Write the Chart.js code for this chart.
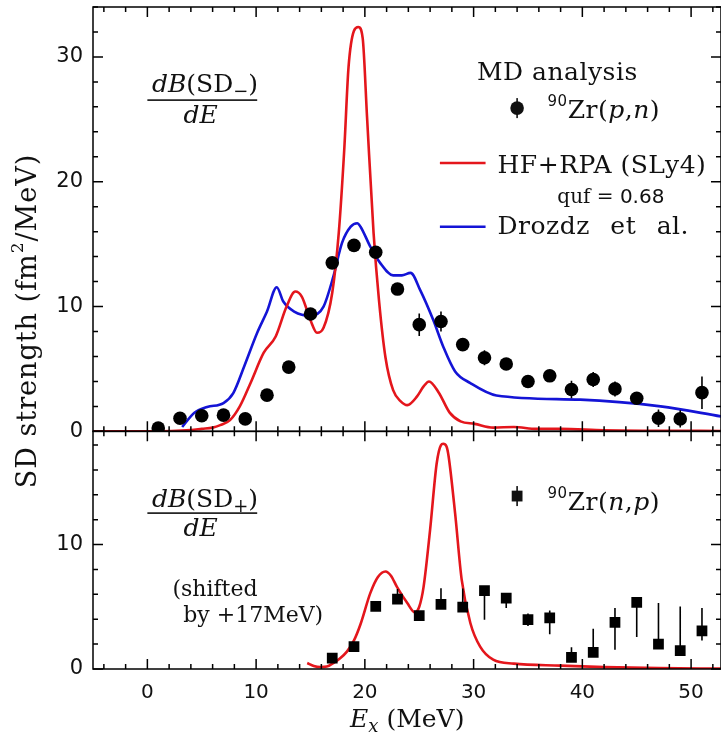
<!DOCTYPE html>
<html lang="en">
<head>
    <title>SD strength 90Zr</title>
    <meta charset="UTF-8">
    <style>
        body {
            margin: 0;
            background: #fff;
        }
        #plot-container {
            width: 721px;
            height: 741px;
        }
    </style>
</head>
<body>
<div id="plot-container">
    <canvas id="sd-plot"></canvas>
</div>
<script src="https://cdn.jsdelivr.net/npm/chart.js"></script>
<script>
    // 90Zr(p,n) multipole decomposition, SD- strength per MeV
    const pnEx = [1, 3, 5, 7, 9, 11, 13, 15, 17, 19, 21, 23, 25, 27, 29, 31, 33, 35, 37, 39, 41, 43, 45, 47, 49, 51];
    const pnVal = [0.27, 1.05, 1.25, 1.3, 1.0, 2.9, 5.15, 9.4, 13.5, 14.9, 14.35, 11.4, 8.55, 8.8, 6.95, 5.9, 5.4, 4.0, 4.45, 3.35, 4.15, 3.4, 2.65, 1.05, 1.0, 3.1];
    const pnErr = [0.3, 0.3, 0.3, 0.3, 0.3, 0.3, 0.3, 0.3, 0.3, 0.3, 0.3, 0.3, 0.9, 0.8, 0.3, 0.6, 0.3, 0.3, 0.3, 0.7, 0.6, 0.6, 0.3, 0.7, 0.7, 1.3];

    // 90Zr(n,p), SD+ strength (shifted by +17 MeV), asymmetric errors
    const npEx = [17, 19, 21, 23, 25, 27, 29, 31, 33, 35, 37, 39, 41, 43, 45, 47, 49, 51];
    const npVal = [0.88, 1.8, 5.03, 5.62, 4.28, 5.2, 4.98, 6.29, 5.7, 3.96, 4.1, 0.94, 1.34, 3.75, 5.35, 2.0, 1.47, 3.07];
    const npErrHi = [0.3, 0.3, 0.3, 0.8, 0.3, 1.3, 1.5, 0.3, 0.3, 0.5, 0.6, 0.8, 1.9, 1.15, 0.3, 3.3, 3.56, 1.83];
    const npErrLo = [0.3, 0.3, 0.3, 0.3, 0.3, 0.3, 0.3, 2.34, 0.8, 0.5, 1.3, 0.3, 0.3, 2.2, 2.78, 0.3, 0.3, 0.77];

    // HF+RPA (SLy4), quf = 0.68, SD- channel
    const rpaMinusEx = [-5, 0, 4, 5, 6, 6.7, 7.6, 8.5, 9.5, 10.7, 11.8, 12.8, 13.6, 14.2, 15.0, 15.6, 16.2, 17.0, 17.6, 18.1, 18.5, 19.0, 19.4, 19.8, 20.2, 20.8, 21.3, 21.9, 22.6, 23.3, 23.9, 24.8, 25.4, 25.9, 26.8, 27.8, 28.8, 30.1, 31.8, 33.7, 35.8, 38.0, 42, 47, 52.75];
    const rpaMinus = [0, 0, 0.1, 0.2, 0.3, 0.5, 0.9, 2.0, 3.9, 6.3, 7.6, 10.0, 11.2, 10.8, 8.9, 7.9, 8.3, 11.1, 15.9, 22.5, 29.2, 32.1, 32.4, 31.5, 25.2, 15.9, 10.5, 5.9, 3.3, 2.4, 2.1, 2.8, 3.6, 4.0, 3.1, 1.5, 0.8, 0.6, 0.3, 0.35, 0.2, 0.2, 0.08, 0.05, 0.03];

    // Drozdz et al.
    const drozdzEx = [3.2, 4.3, 5.5, 7.0, 7.9, 8.9, 10.1, 11.0, 11.9, 12.5, 13.5, 15.0, 16.2, 17.1, 17.9, 18.7, 19.3, 19.6, 20.5, 21.4, 22.6, 23.4, 24.2, 25.1, 26.3, 27.2, 28.3, 29.7, 32.1, 39.8, 47.2, 52.75];
    const drozdz = [0.35, 1.47, 1.95, 2.27, 3.07, 5.2, 7.9, 9.6, 11.55, 10.4, 9.6, 9.26, 10.0, 12.4, 15.1, 16.4, 16.67, 16.4, 14.8, 13.5, 12.5, 12.5, 12.7, 11.3, 8.9, 6.8, 4.8, 3.87, 2.88, 2.54, 2.0, 1.2];

    // HF+RPA (SLy4), SD+ channel
    const rpaPlusEx = [14.7, 15.3, 15.9, 16.5, 17.1, 17.7, 18.35, 19.0, 19.6, 20.5, 21.2, 21.9, 22.4, 22.95, 23.9, 24.6, 25.0, 25.4, 26.0, 26.6, 27.0, 27.2, 27.5, 27.7, 28.3, 28.9, 29.7, 30.6, 31.8, 33.7, 38.0, 42, 47, 52.75];
    const rpaPlus = [0.48, 0.25, 0.16, 0.2, 0.48, 0.85, 1.4, 2.3, 3.6, 6.1, 7.4, 7.84, 7.5, 6.6, 5.3, 4.55, 5.0, 6.6, 11.2, 16.5, 18.0, 18.1, 17.9, 17.1, 12.5, 7.2, 3.7, 1.8, 0.75, 0.43, 0.27, 0.15, 0.07, 0.03];

    const xTicks = [0, 10, 20, 30, 40, 50];
    const yTopTicks = [0, 10, 20, 30];
    const yBotTicks = [0, 10];

    const RED = '#e4161c';
    const BLUE = '#1414d6';
    const SERIF = '"DejaVu Serif"';
    const SANS = '"DejaVu Sans"';

    const pairs = (xs, ys) => xs.map((x, i) => ({x: x, y: ys[i]}));

    // draw a run of differently styled text pieces, returns total width
    function drawRuns(ctx, parts, x, y, align) {
        let w = 0;
        parts.forEach(p => { ctx.font = p.f; w += ctx.measureText(p.t).width; });
        let cx = align === 'center' ? x - w / 2 : x;
        parts.forEach(p => {
            ctx.font = p.f;
            ctx.fillText(p.t, cx, y + (p.dy || 0));
            cx += ctx.measureText(p.t).width;
        });
        return w;
    }

    const frame = {
        id: 'frame',
        afterDatasetsDraw(chart) {
            const ctx = chart.ctx;
            const sx = chart.scales.x, yt = chart.scales.yTop, yb = chart.scales.yBot;
            const L = chart.chartArea.left, R = chart.chartArea.right;

            ctx.save();
            // error bars
            ctx.strokeStyle = '#000';
            ctx.lineWidth = 1.6;
            ctx.beginPath();
            pnEx.forEach((e, i) => {
                const px = sx.getPixelForValue(e);
                ctx.moveTo(px, yt.getPixelForValue(pnVal[i] - pnErr[i]));
                ctx.lineTo(px, yt.getPixelForValue(pnVal[i] + pnErr[i]));
            });
            npEx.forEach((e, i) => {
                const px = sx.getPixelForValue(e);
                ctx.moveTo(px, yb.getPixelForValue(npVal[i] - npErrLo[i]));
                ctx.lineTo(px, yb.getPixelForValue(npVal[i] + npErrHi[i]));
            });
            ctx.stroke();

            // panel frames with inward ticks
            ctx.lineWidth = 1.5;
            [yt, yb].forEach(ys => {
                const T = ys.top, B = ys.bottom;
                ctx.strokeRect(L, T, R - L, B - T);
                ctx.beginPath();
                for (let v = 0; v <= ys.max; v += 2) {
                    const p = ys.getPixelForValue(v);
                    const len = v % 10 === 0 ? 10 : 5;
                    ctx.moveTo(L, p); ctx.lineTo(L + len, p);
                    ctx.moveTo(R, p); ctx.lineTo(R - len, p);
                }
                for (let v = -4; v <= sx.max; v += 2) {
                    const p = sx.getPixelForValue(v);
                    const len = v % 10 === 0 ? 10 : 5;
                    ctx.moveTo(p, T); ctx.lineTo(p, T + len);
                    ctx.moveTo(p, B); ctx.lineTo(p, B - len);
                }
                ctx.stroke();
            });

            ctx.fillStyle = '#111';
            ctx.textBaseline = 'alphabetic';
            const X = v => sx.getPixelForValue(v);
            const big = '25px ' + SERIF, bigIt = 'italic 25px ' + SERIF;
            const sub = '18px ' + SERIF;

            // dB(SD-)/dE
            drawRuns(ctx, [{t: 'dB', f: bigIt}, {t: '(SD', f: big}, {t: '\u2212', f: sub, dy: 5}, {t: ')', f: big}],
                X(5.3), yt.getPixelForValue(27.18), 'center');
            ctx.fillRect(X(0), yt.getPixelForValue(26.54) - 0.8, X(10.1) - X(0), 1.6);
            drawRuns(ctx, [{t: 'dE', f: bigIt}], X(4.9), yt.getPixelForValue(24.7), 'center');

            // dB(SD+)/dE
            drawRuns(ctx, [{t: 'dB', f: bigIt}, {t: '(SD', f: big}, {t: '+', f: sub, dy: 5}, {t: ')', f: big}],
                X(5.3), yb.getPixelForValue(13.05), 'center');
            ctx.fillRect(X(0), yb.getPixelForValue(12.53) - 0.8, X(10.1) - X(0), 1.6);
            drawRuns(ctx, [{t: 'dE', f: bigIt}], X(4.9), yb.getPixelForValue(10.65), 'center');

            ctx.font = '22px ' + SERIF;
            ctx.fillText('(shifted', X(2.3), yb.getPixelForValue(5.83));
            ctx.fillText('by +17MeV)', X(3.3), yb.getPixelForValue(3.74));

            // legend block
            ctx.letterSpacing = '0.5px';
            ctx.font = big;
            ctx.textAlign = 'center';
            ctx.fillText('MD analysis', X(37.7), yt.getPixelForValue(28.14));
            ctx.textAlign = 'left';

            const zr = (a, b) => [{t: '90', f: '15px ' + SANS, dy: -12}, {t: 'Zr(', f: big}, {t: a, f: bigIt}, {t: ',', f: big}, {t: b, f: bigIt}, {t: ')', f: big}];
            drawRuns(ctx, zr('p', 'n'), X(36.8), yt.getPixelForValue(25.1), 'left');
            drawRuns(ctx, zr('n', 'p'), X(36.8), yb.getPixelForValue(12.8), 'left');

            // legend markers
            ctx.beginPath();
            ctx.arc(X(34), yt.getPixelForValue(25.9), 6.8, 0, Math.PI * 2);
            ctx.fill();
            ctx.fillRect(X(34) - 0.8, yt.getPixelForValue(25.9) - 10, 1.6, 20);
            ctx.fillRect(X(34) - 5.4, yb.getPixelForValue(13.9) - 5.4, 10.8, 10.8);
            ctx.fillRect(X(34) - 0.8, yb.getPixelForValue(13.9) - 10, 1.6, 20);

            ctx.lineWidth = 2.5;
            ctx.strokeStyle = RED;
            ctx.beginPath();
            ctx.moveTo(X(26.9), yt.getPixelForValue(21.5));
            ctx.lineTo(X(31.1), yt.getPixelForValue(21.5));
            ctx.stroke();
            ctx.strokeStyle = BLUE;
            ctx.beginPath();
            ctx.moveTo(X(26.9), yt.getPixelForValue(16.4));
            ctx.lineTo(X(31.1), yt.getPixelForValue(16.4));
            ctx.stroke();

            ctx.font = big;
            ctx.fillText('HF+RPA (SLy4)', X(32.2), yt.getPixelForValue(20.7));
            ctx.wordSpacing = '12px';
            ctx.fillText('Drozdz et al.', X(32.2), yt.getPixelForValue(15.8));
            ctx.wordSpacing = '0px';
            ctx.letterSpacing = '0px';
            drawRuns(ctx, [{t: 'quf = ', f: '20px ' + SERIF}, {t: '0.68', f: '20px ' + SANS}],
                X(37.7), yt.getPixelForValue(18.3), 'left');

            // axis titles
            drawRuns(ctx, [{t: 'E', f: bigIt}, {t: 'x', f: 'italic 18px ' + SERIF, dy: 5}, {t: ' (MeV)', f: big}],
                X(23.9), chart.chartArea.bottom + 58, 'center');

            ctx.translate(29, chart.chartArea.top + 314);
            ctx.rotate(-Math.PI / 2);
            ctx.textBaseline = 'middle';
            ctx.letterSpacing = '1px';
            drawRuns(ctx, [{t: 'SD strength (fm', f: '27px ' + SERIF}, {t: '2', f: '17px ' + SERIF, dy: -10},
                {t: '/MeV)', f: '27px ' + SERIF}], 0, 0, 'center');
            ctx.restore();
        }
    };

    const lineStyle = {showLine: true, pointRadius: 0, borderWidth: 2.6, cubicInterpolationMode: 'monotone'};
    const noPad = s => { s.paddingLeft = 0; s.paddingRight = 0; s.paddingTop = 0; s.paddingBottom = 0; };

    const sd_plot = new Chart(document.getElementById('sd-plot'), {
        type: 'scatter',
        data: {
            datasets: [
                {data: pairs(pnEx, pnVal), yAxisID: 'yTop', pointStyle: 'circle', pointRadius: 6.8,
                    backgroundColor: '#000', borderWidth: 0},
                {data: pairs(npEx, npVal), yAxisID: 'yBot', pointStyle: 'rect', pointRadius: 7.6,
                    backgroundColor: '#000', borderWidth: 0},
                Object.assign({data: pairs(rpaMinusEx, rpaMinus), yAxisID: 'yTop', borderColor: RED}, lineStyle),
                Object.assign({data: pairs(drozdzEx, drozdz), yAxisID: 'yTop', borderColor: BLUE}, lineStyle),
                Object.assign({data: pairs(rpaPlusEx, rpaPlus), yAxisID: 'yBot', borderColor: RED}, lineStyle)
            ]
        },
        options: {
            responsive: true,
            maintainAspectRatio: false,
            animation: false,
            layout: {autoPadding: false, padding: {top: 7, right: 0, left: 0, bottom: 0}},
            plugins: {legend: {display: false}, tooltip: {enabled: false}},
            scales: {
                x: {
                    type: 'linear', position: 'bottom', min: -5, max: 52.75,
                    grid: {display: false, drawTicks: false}, border: {display: false},
                    afterBuildTicks: s => { s.ticks = xTicks.map(v => ({value: v})); },
                    afterFit: s => { s.height = 72; noPad(s); },
                    ticks: {font: {family: 'DejaVu Sans', size: 20}, color: '#111', padding: 12, maxRotation: 0, autoSkip: false}
                },
                // stacked panels: listed bottom-up
                yBot: {
                    type: 'linear', position: 'left', stack: 'sd', stackWeight: 238, min: 0, max: 19.1,
                    grid: {display: false, drawTicks: false}, border: {display: false},
                    afterBuildTicks: s => { s.ticks = yBotTicks.map(v => ({value: v})); },
                    afterFit: s => { s.width = 93; noPad(s); },
                    ticks: {font: {family: 'DejaVu Sans', size: 21}, color: '#111', padding: 10, autoSkip: false}
                },
                yTop: {
                    type: 'linear', position: 'left', stack: 'sd', stackWeight: 425, min: 0, max: 34,
                    grid: {display: false, drawTicks: false}, border: {display: false},
                    afterBuildTicks: s => { s.ticks = yTopTicks.map(v => ({value: v})); },
                    afterFit: s => { s.width = 93; noPad(s); },
                    ticks: {font: {family: 'DejaVu Sans', size: 21}, color: '#111', padding: 10, autoSkip: false}
                }
            }
        },
        plugins: [frame]
    });
</script>
</body>
</html>
